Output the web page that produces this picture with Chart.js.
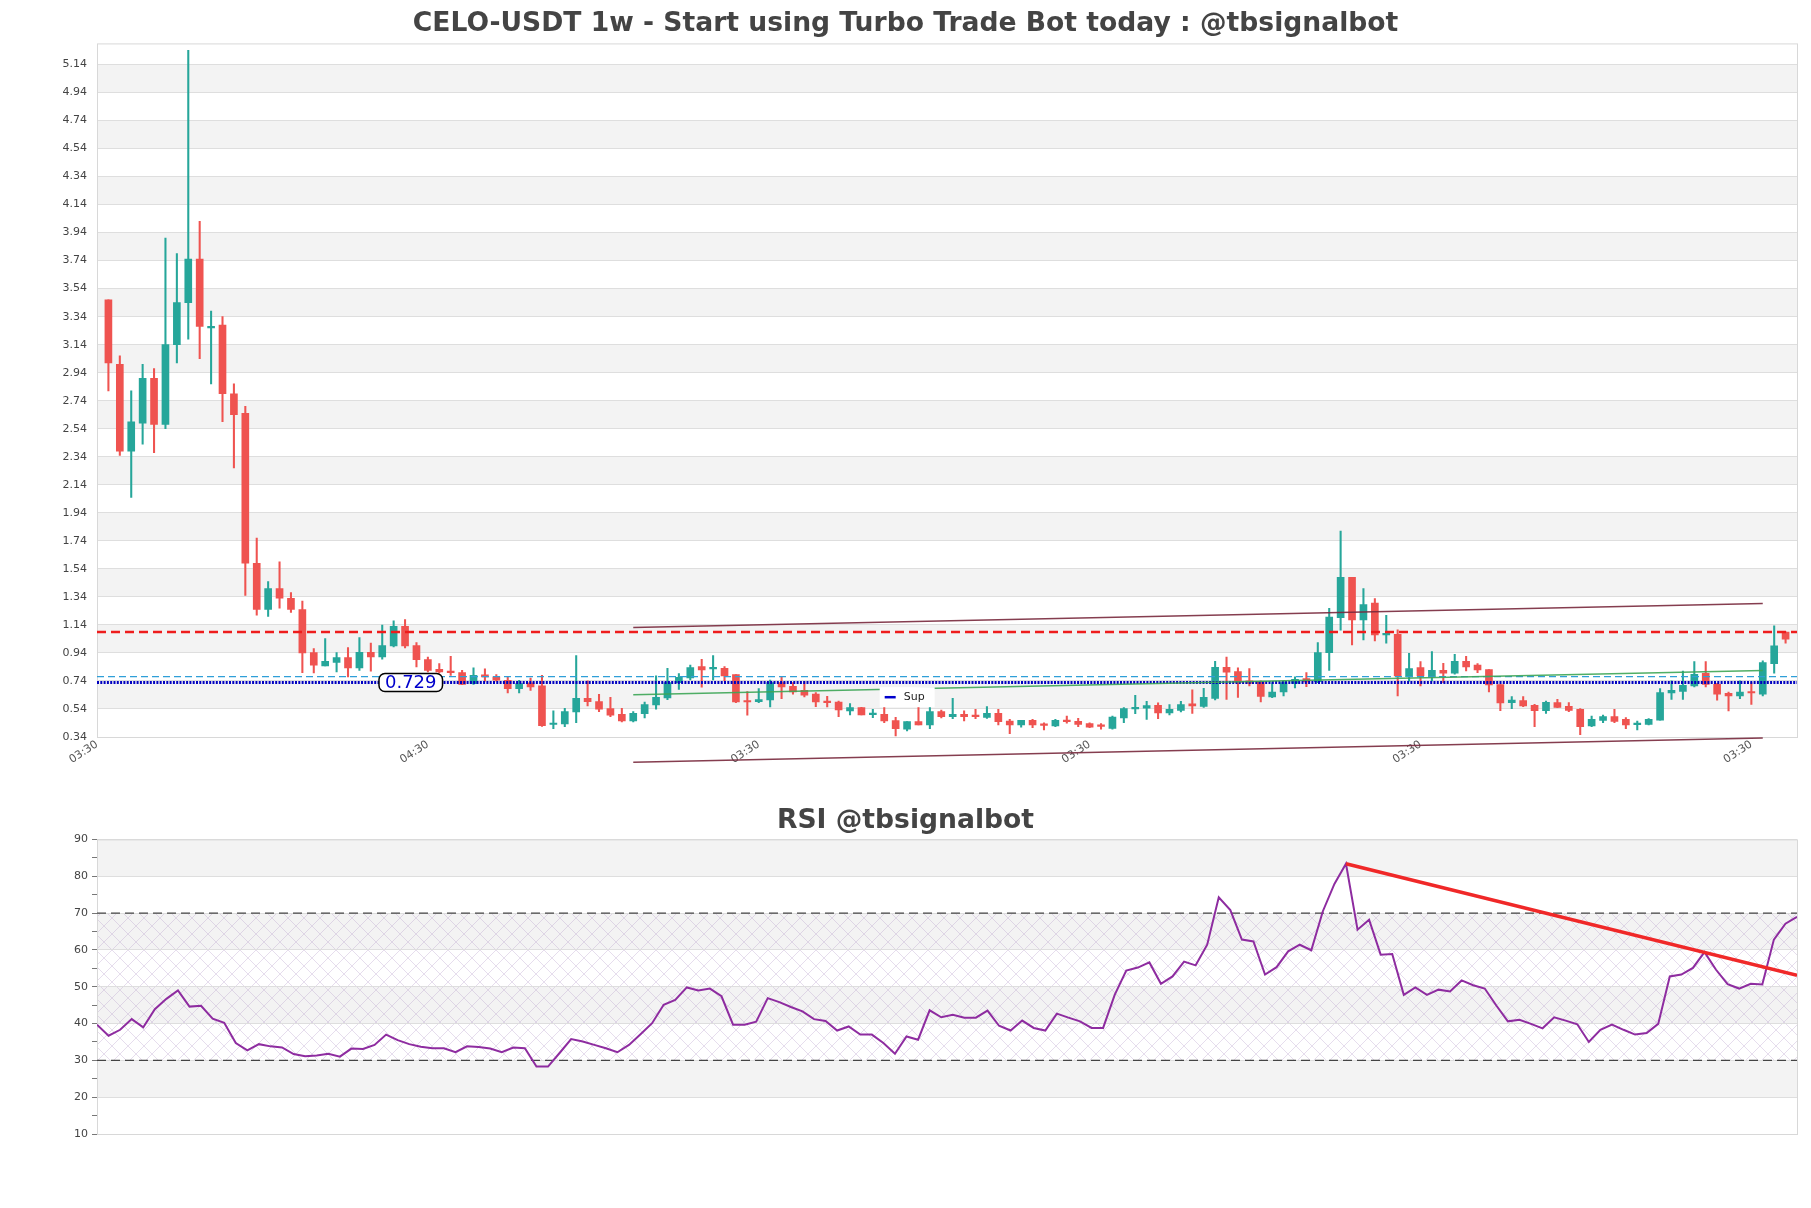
<!DOCTYPE html>
<html lang="en">
<head>
<meta charset="UTF-8">
<title>CELO-USDT 1w</title>
<style>
    body { margin: 0; background: #fff; }
    .chartBox { position: absolute; left: 0; width: 1811px; }
    #priceBox { top: 0; height: 790px; }
    #rsiBox { top: 790px; height: 418px; }
</style>
</head>
<body>
<div class="chartBox" id="priceBox"><canvas id="priceChart"></canvas></div>
<div class="chartBox" id="rsiBox"><canvas id="rsiChart"></canvas></div>
<script src="https://cdn.jsdelivr.net/npm/chart.js"></script>
<script>
    // weekly candles
    const opens = [3.46, 3.00, 2.38, 2.58, 2.90, 2.57, 3.14, 3.44, 3.75, 3.26,
        3.28, 2.79, 2.65, 1.58, 1.25, 1.40, 1.33, 1.25, 0.942, 0.847,
        0.873, 0.907, 0.833, 0.945, 0.911, 0.99, 1.13, 0.992, 0.892, 0.823,
        0.809, 0.80, 0.721, 0.783, 0.769, 0.745, 0.685, 0.726, 0.705, 0.429,
        0.433, 0.519, 0.616, 0.592, 0.542, 0.502, 0.454, 0.507, 0.569, 0.619,
        0.728, 0.761, 0.842, 0.826, 0.83, 0.785, 0.592, 0.592, 0.604, 0.728,
        0.702, 0.673, 0.647, 0.595, 0.59, 0.526, 0.55, 0.50, 0.502, 0.457,
        0.395, 0.45, 0.426, 0.521, 0.485, 0.502, 0.487, 0.48, 0.509, 0.454,
        0.426, 0.459, 0.426, 0.419, 0.461, 0.452, 0.435, 0.418, 0.402, 0.476,
        0.54, 0.545, 0.566, 0.511, 0.53, 0.576, 0.559, 0.616, 0.838, 0.807,
        0.74, 0.733, 0.626, 0.661, 0.723, 0.757, 0.735, 0.942, 1.192, 1.48,
        1.176, 1.295, 1.069, 1.073, 0.771, 0.835, 0.769, 0.816, 0.795, 0.88,
        0.854, 0.821, 0.714, 0.585, 0.60, 0.566, 0.528, 0.585, 0.559, 0.538,
        0.419, 0.459, 0.485, 0.466, 0.428, 0.43, 0.461, 0.654, 0.666, 0.704,
        0.795, 0.716, 0.652, 0.633, 0.66, 0.645, 0.864, 1.088];
    const highs = [3.46, 3.06, 2.81, 3.00, 2.97, 3.90, 3.79, 5.24, 4.02, 3.38,
        3.34, 2.86, 2.70, 1.76, 1.45, 1.59, 1.37, 1.31, 0.971, 1.042,
        0.942, 0.978, 1.05, 1.011, 1.138, 1.169, 1.178, 1.014, 0.911, 0.864,
        0.916, 0.816, 0.833, 0.826, 0.785, 0.773, 0.745, 0.761, 0.78, 0.526,
        0.545, 0.921, 0.74, 0.645, 0.623, 0.545, 0.521, 0.59, 0.776, 0.83,
        0.792, 0.854, 0.895, 0.921, 0.842, 0.785, 0.664, 0.685, 0.747, 0.771,
        0.728, 0.735, 0.657, 0.63, 0.597, 0.578, 0.552, 0.538, 0.559, 0.48,
        0.45, 0.557, 0.557, 0.533, 0.616, 0.526, 0.538, 0.557, 0.538, 0.466,
        0.459, 0.466, 0.442, 0.466, 0.49, 0.473, 0.442, 0.435, 0.49, 0.55,
        0.638, 0.595, 0.583, 0.571, 0.595, 0.676, 0.688, 0.88, 0.911, 0.833,
        0.828, 0.74, 0.728, 0.74, 0.769, 0.80, 1.014, 1.259, 1.809, 1.48,
        1.40, 1.328, 1.209, 1.104, 0.938, 0.878, 0.95, 0.866, 0.93, 0.916,
        0.864, 0.821, 0.714, 0.628, 0.628, 0.573, 0.597, 0.609, 0.585, 0.542,
        0.49, 0.497, 0.538, 0.478, 0.454, 0.471, 0.685, 0.74, 0.811, 0.878,
        0.878, 0.723, 0.661, 0.74, 0.728, 0.883, 1.133, 1.09];
    const lows = [2.81, 2.35, 2.05, 2.43, 2.37, 2.54, 3.01, 3.18, 3.04, 2.86,
        2.59, 2.26, 1.35, 1.21, 1.20, 1.26, 1.23, 0.80, 0.797, 0.847,
        0.804, 0.769, 0.816, 0.809, 0.895, 0.983, 0.976, 0.84, 0.804, 0.797,
        0.78, 0.714, 0.716, 0.738, 0.738, 0.654, 0.654, 0.673, 0.415, 0.40,
        0.414, 0.442, 0.561, 0.521, 0.485, 0.447, 0.447, 0.476, 0.538, 0.607,
        0.68, 0.747, 0.695, 0.747, 0.74, 0.585, 0.495, 0.585, 0.554, 0.614,
        0.645, 0.626, 0.557, 0.554, 0.485, 0.497, 0.497, 0.478, 0.442, 0.347,
        0.383, 0.426, 0.40, 0.476, 0.471, 0.454, 0.471, 0.473, 0.426, 0.364,
        0.411, 0.407, 0.39, 0.414, 0.438, 0.414, 0.407, 0.395, 0.395, 0.442,
        0.507, 0.466, 0.471, 0.497, 0.519, 0.509, 0.552, 0.604, 0.609, 0.623,
        0.704, 0.59, 0.621, 0.633, 0.69, 0.70, 0.728, 0.816, 1.102, 0.997,
        1.033, 1.026, 1.009, 0.633, 0.738, 0.704, 0.74, 0.728, 0.788, 0.811,
        0.80, 0.661, 0.528, 0.542, 0.557, 0.414, 0.509, 0.55, 0.521, 0.357,
        0.414, 0.442, 0.442, 0.40, 0.39, 0.426, 0.461, 0.609, 0.609, 0.697,
        0.697, 0.602, 0.526, 0.614, 0.573, 0.633, 0.795, 1.009];
    const closes = [3.01, 2.38, 2.59, 2.90, 2.57, 3.14, 3.44, 3.75, 3.27, 3.27,
        2.79, 2.64, 1.58, 1.25, 1.40, 1.33, 1.25, 0.94, 0.852, 0.88,
        0.907, 0.833, 0.945, 0.911, 0.992, 1.13, 0.99, 0.892, 0.816, 0.804,
        0.80, 0.716, 0.78, 0.769, 0.745, 0.685, 0.721, 0.697, 0.42, 0.433,
        0.521, 0.616, 0.592, 0.538, 0.495, 0.454, 0.509, 0.571, 0.623, 0.728,
        0.766, 0.835, 0.819, 0.829, 0.776, 0.59, 0.59, 0.607, 0.728, 0.697,
        0.661, 0.638, 0.59, 0.585, 0.533, 0.55, 0.497, 0.502, 0.454, 0.40,
        0.45, 0.426, 0.521, 0.485, 0.502, 0.485, 0.485, 0.509, 0.45, 0.426,
        0.459, 0.426, 0.423, 0.459, 0.45, 0.43, 0.411, 0.416, 0.483, 0.542,
        0.552, 0.564, 0.511, 0.538, 0.571, 0.561, 0.623, 0.838, 0.802, 0.73,
        0.723, 0.63, 0.661, 0.728, 0.752, 0.733, 0.942, 1.195, 1.48, 1.176,
        1.285, 1.069, 1.076, 0.776, 0.828, 0.776, 0.816, 0.795, 0.88, 0.84,
        0.819, 0.711, 0.583, 0.604, 0.561, 0.528, 0.588, 0.552, 0.53, 0.414,
        0.466, 0.485, 0.452, 0.426, 0.435, 0.466, 0.657, 0.673, 0.709, 0.788,
        0.716, 0.645, 0.633, 0.661, 0.654, 0.871, 0.99, 1.038];

    const rsi = [39.7, 36.7, 38.3, 41.2, 39.0, 43.9, 46.7, 49.0, 44.6, 44.8,
        41.3, 40.2, 34.7, 32.7, 34.4, 33.8, 33.5, 31.7, 31.1, 31.3,
        31.8, 31.0, 33.2, 33.1, 34.2, 37.0, 35.5, 34.4, 33.7, 33.3,
        33.3, 32.2, 33.8, 33.6, 33.2, 32.2, 33.5, 33.3, 28.3, 28.3,
        32.0, 35.8, 35.1, 34.2, 33.3, 32.2, 34.2, 37.1, 40.1, 45.1,
        46.4, 49.8, 49.0, 49.5, 47.4, 39.7, 39.7, 40.5, 46.9, 45.8,
        44.5, 43.3, 41.2, 40.7, 38.1, 39.2, 37.0, 37.0, 34.7, 31.8,
        36.5, 35.6, 43.6, 41.7, 42.4, 41.6, 41.6, 43.5, 39.4, 38.1,
        40.8, 38.8, 38.1, 42.7, 41.6, 40.6, 38.8, 38.8, 47.8, 54.4,
        55.2, 56.6, 50.8, 52.8, 56.8, 55.8, 61.4, 74.3, 70.8, 62.8,
        62.3, 53.3, 55.3, 59.6, 61.4, 59.9, 70.5, 77.9, 83.4, 65.5,
        68.2, 58.7, 58.9, 47.8, 49.8, 47.8, 49.2, 48.7, 51.7, 50.4,
        49.5, 44.9, 40.6, 41.0, 39.9, 38.7, 41.7, 40.8, 39.8, 35.0,
        38.3, 39.7, 38.3, 37.0, 37.4, 39.9, 52.8, 53.3, 55.1, 59.4,
        54.6, 50.7, 49.5, 50.8, 50.6, 62.8, 67.1, 69.0];

    // levels and trend lines
    const resistance = 1.089;
    const midLevel = 0.771;
    const support = 0.729;
    const channelTop = [{x: 46, y: 1.121}, {x: 145, y: 1.292}];
    const channelBottom = [{x: 46, y: 0.16}, {x: 145, y: 0.333}];
    const supLine = [{x: 46, y: 0.642}, {x: 145, y: 0.814}];
    const rsiTrend = [{x: 108, y: 83.4}, {x: 147, y: 53.1}];

    // axes
    const priceTicks = [];
    for (let k = 0; k <= 24; k++) priceTicks.push(+(0.34 + k * 0.2).toFixed(2));
    const rsiTicks = [10, 20, 30, 40, 50, 60, 70, 80, 90];
    const xTickPos = [-1, 28, 57, 86, 115, 144];
    const xTickLabels = ['03:30', '04:30', '03:30', '03:30', '03:30', '03:30'];

    const UP = '#26a69a';
    const DOWN = '#ef5350';
    const candleColors = opens.map((o, i) => closes[i] >= o ? UP : DOWN);

    Chart.defaults.font.family = "'DejaVu Sans', sans-serif";

    function drawBands(chart, tickValues) {
        const {ctx, chartArea: a} = chart;
        const y = chart.scales.y;
        ctx.save();
        ctx.fillStyle = '#f3f3f3';
        for (let k = 0; k < tickValues.length - 1; k++) {
            if (k % 2 === 1) {
                const y1 = y.getPixelForValue(tickValues[k + 1]);
                const y0 = y.getPixelForValue(tickValues[k]);
                ctx.fillRect(a.left, y1, a.right - a.left, y0 - y1);
            }
        }
        ctx.restore();
    }

    function drawFrame(chart) {
        const {ctx, chartArea: a} = chart;
        ctx.save();
        ctx.strokeStyle = '#d8d8d8';
        ctx.lineWidth = 1;
        ctx.strokeRect(a.left + 0.5, a.top + 0.5, a.right - a.left, a.bottom - a.top);
        ctx.restore();
    }

    // empty right-hand axis, keeps the title centred on the whole canvas
    const rightGap = {
        position: 'right', display: true,
        afterFit: s => { s.width = 14; },
        grid: {display: false}, border: {display: false}, ticks: {display: false}
    };

    const priceDecor = {
        id: 'priceDecor',
        beforeDraw(chart) { drawBands(chart, priceTicks); },
        beforeDatasetsDraw(chart) { drawFrame(chart); },
        afterDatasetsDraw(chart) {
            const {ctx} = chart;
            const x = chart.scales.x, y = chart.scales.y;
            ctx.save();
            // price tag on the support line
            ctx.font = "18px 'DejaVu Sans'";
            const txt = support.toFixed(3);
            const w = ctx.measureText(txt).width + 12;
            const cx = x.getPixelForValue(26.5), cy = y.getPixelForValue(support);
            ctx.beginPath();
            ctx.roundRect(cx - w / 2, cy - 9, w, 18, 6);
            ctx.fillStyle = '#fff';
            ctx.fill();
            ctx.lineWidth = 1.5;
            ctx.strokeStyle = '#000';
            ctx.stroke();
            ctx.fillStyle = '#0000cc';
            ctx.textAlign = 'center';
            ctx.textBaseline = 'middle';
            ctx.fillText(txt, cx, cy + 1);
            // "Sup" legend
            const lx = x.getPixelForValue(67.6), ly = y.getPixelForValue(0.624);
            ctx.fillStyle = '#fff';
            ctx.fillRect(lx, ly - 10, 55, 20);
            ctx.strokeStyle = '#0000cc';
            ctx.lineWidth = 2.5;
            ctx.beginPath();
            ctx.moveTo(lx + 5, ly);
            ctx.lineTo(lx + 16, ly);
            ctx.stroke();
            ctx.font = "11px 'DejaVu Sans'";
            ctx.fillStyle = '#222';
            ctx.textAlign = 'left';
            ctx.fillText('Sup', lx + 24, ly);
            ctx.restore();
        }
    };

    function flatLine(v) {
        return [{x: -1, y: v}, {x: 148, y: v}];
    }

    const priceChart = new Chart(document.getElementById('priceChart'), {
        type: 'bar',
        data: {
            datasets: [
                {
                    type: 'line', data: channelTop, borderColor: 'rgba(120,40,60,0.9)',
                    borderWidth: 1.5, pointRadius: 0, clip: false, order: 1
                },
                {
                    type: 'line', data: channelBottom, borderColor: 'rgba(120,40,60,0.9)',
                    borderWidth: 1.5, pointRadius: 0, clip: false, order: 1
                },
                {
                    type: 'line', data: supLine, borderColor: 'rgba(60,165,85,0.9)',
                    borderWidth: 1.5, pointRadius: 0, clip: false, order: 1
                },
                {
                    type: 'line', data: flatLine(resistance), borderColor: '#ee1c1c',
                    borderWidth: 2.5, borderDash: [9, 5], pointRadius: 0, order: 1
                },
                {
                    type: 'line', data: flatLine(midLevel), borderColor: '#2f9fd8',
                    borderWidth: 1.2, borderDash: [7, 4], pointRadius: 0, order: 1
                },
                {
                    type: 'line', data: flatLine(support), borderColor: '#0000c0',
                    borderWidth: 3, borderDash: [2, 1.3], pointRadius: 0, order: 1
                },
                {
                    data: lows.map((l, i) => ({x: i, y: [l, highs[i]]})),
                    backgroundColor: candleColors, barThickness: 1.4, grouped: false, order: 3
                },
                {
                    data: opens.map((o, i) => ({x: i, y: [o, closes[i]]})),
                    backgroundColor: candleColors, barThickness: 7, minBarLength: 1.5,
                    grouped: false, order: 2
                }
            ]
        },
        options: {
            responsive: true,
            maintainAspectRatio: false,
            animation: false,
            layout: {padding: 0},
            plugins: {
                legend: {display: false},
                tooltip: {enabled: false},
                title: {
                    display: true,
                    text: 'CELO-USDT 1w - Start using Turbo Trade Bot today : @tbsignalbot',
                    color: '#444',
                    font: {size: 26.6, weight: 'bold'},
                    padding: {top: 8.5, bottom: 3}
                }
            },
            scales: {
                x: {
                    type: 'linear', min: -1, max: 148, offset: false,
                    grid: {display: false, drawTicks: false}, border: {display: false},
                    afterBuildTicks: s => { s.ticks = xTickPos.map(v => ({value: v})); },
                    afterFit: s => { s.height = 53; },
                    ticks: {
                        autoSkip: false, minRotation: 33, maxRotation: 33,
                        color: '#555', font: {size: 11}, padding: 1,
                        callback: (v, i) => xTickLabels[i]
                    }
                },
                y: {
                    min: 0.34, max: 5.29,
                    afterBuildTicks: s => { s.ticks = priceTicks.map(v => ({value: v})); },
                    afterFit: s => { s.width = 97; },
                    grid: {color: '#dedede', drawTicks: false},
                    border: {display: false},
                    ticks: {color: '#444', font: {size: 11}, padding: 10, callback: v => v.toFixed(2)}
                },
                yRight: Object.assign({min: 0.34, max: 5.29}, rightGap)
            }
        },
        plugins: [priceDecor]
    });

    // RSI panel
    const hatch = document.createElement('canvas');
    hatch.width = 16;
    hatch.height = 16;
    const hctx = hatch.getContext('2d');
    hctx.strokeStyle = 'rgba(185,160,205,0.45)';
    hctx.lineWidth = 0.8;
    hctx.beginPath();
    hctx.moveTo(0, 0); hctx.lineTo(16, 16);
    hctx.moveTo(16, 0); hctx.lineTo(0, 16);
    hctx.stroke();

    const rsiDecor = {
        id: 'rsiDecor',
        beforeDraw(chart) {
            drawBands(chart, rsiTicks);
            const {ctx, chartArea: a} = chart;
            const y = chart.scales.y;
            const y70 = y.getPixelForValue(70), y30 = y.getPixelForValue(30);
            ctx.save();
            ctx.fillStyle = ctx.createPattern(hatch, 'repeat');
            ctx.fillRect(a.left, y70, a.right - a.left, y30 - y70);
            ctx.restore();
        },
        beforeDatasetsDraw(chart) { drawFrame(chart); }
    };

    const rsiChart = new Chart(document.getElementById('rsiChart'), {
        type: 'line',
        data: {
            datasets: [
                {
                    data: rsi.map((v, i) => ({x: i, y: v})), borderColor: '#8e2ca0',
                    borderWidth: 2, pointRadius: 0, order: 2
                },
                {
                    data: [{x: 0, y: 70}, {x: 147, y: 70}], borderColor: '#444',
                    borderWidth: 1.3, borderDash: [9, 5], pointRadius: 0, order: 3
                },
                {
                    data: [{x: 0, y: 30}, {x: 147, y: 30}], borderColor: '#444',
                    borderWidth: 1.3, borderDash: [9, 5], pointRadius: 0, order: 3
                },
                {
                    data: rsiTrend, borderColor: '#f02828',
                    borderWidth: 3.5, pointRadius: 0, order: 1
                }
            ]
        },
        options: {
            responsive: true,
            maintainAspectRatio: false,
            animation: false,
            layout: {padding: {left: 0, right: 0, top: 0, bottom: 74}},
            plugins: {
                legend: {display: false},
                tooltip: {enabled: false},
                title: {
                    display: true,
                    text: 'RSI @tbsignalbot',
                    color: '#444',
                    font: {size: 26.6, weight: 'bold'},
                    padding: {top: 15.6, bottom: 1.9}
                }
            },
            scales: {
                x: {type: 'linear', min: 0, max: 147, display: false},
                y: {
                    min: 10, max: 90,
                    afterFit: s => { s.width = 97; },
                    grid: {
                        color: c => c.tick.value % 10 === 0 ? '#dedede' : 'rgba(0,0,0,0)',
                        tickColor: '#777', tickLength: 5
                    },
                    border: {display: false},
                    ticks: {
                        stepSize: 5, color: '#444', font: {size: 11}, padding: 4,
                        callback: v => v % 10 === 0 ? v : ''
                    }
                },
                yRight: Object.assign({min: 10, max: 90}, rightGap)
            }
        },
        plugins: [rsiDecor]
    });
</script>
</body>
</html>
